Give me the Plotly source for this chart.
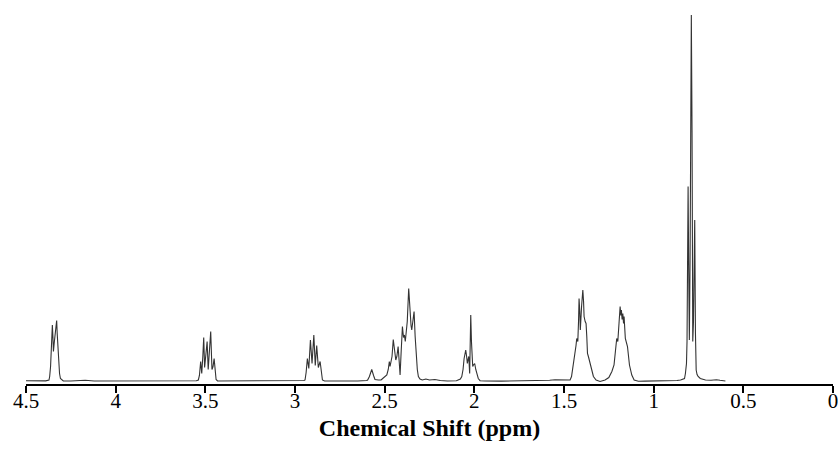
import plotly.graph_objects as go

# 1H NMR spectrum: chemical shift (ppm) and relative intensity
ppm_a = [4.50, 4.45, 4.39, 4.372, 4.368, 4.363, 4.358, 4.353, 4.350, 4.347, 4.343, 4.338, 4.333, 4.329, 4.326, 4.323, 4.318, 4.313, 4.308, 4.300, 4.292]
int_a = [0.8, 0.5, 0.6, 1.5, 5, 15, 40, 56.5, 45, 30, 38, 45, 55, 61, 48, 35, 22, 8, 3, 1.5, 0.5]

ppm_b = [4.25, 4.17, 4.12, 3.95, 3.85, 3.75, 3.60, 3.55,
         3.539, 3.533, 3.526, 3.520, 3.514, 3.509, 3.504, 3.499, 3.490, 3.484, 3.478, 3.470, 3.463, 3.457, 3.451, 3.445, 3.440, 3.432]
int_b = [0.5, 1.2, 0.5, 0.5, 1.0, 0.4, 0.5, 0.8,
         1.5, 6, 20, 8, 25, 44, 14, 22, 40, 12, 30, 50, 12, 15, 23, 8, 2, 0.5]

ppm_c = [3.40, 3.25, 3.10, 2.98, 2.95,
         2.944, 2.938, 2.931, 2.923, 2.914, 2.905, 2.895, 2.887, 2.879, 2.870, 2.860, 2.853, 2.847, 2.835]
int_c = [0.5, 0.3, 0.5, 0.4, 1.0,
         1.5, 9, 23, 13, 41.5, 18, 46.5, 16, 36, 14, 20, 6, 1.5, 0.5]

ppm_d = [2.75, 2.65, 2.60,
         2.595, 2.585, 2.572, 2.562, 2.554, 2.535, 2.520, 2.511, 2.500, 2.488, 2.480, 2.474, 2.470, 2.466, 2.459,
         2.452, 2.445, 2.438, 2.432, 2.425, 2.419, 2.414, 2.408, 2.401, 2.395, 2.390, 2.385, 2.381, 2.374, 2.366,
         2.362, 2.358, 2.353, 2.349, 2.343, 2.336, 2.330, 2.325, 2.318, 2.312, 2.303, 2.29, 2.27, 2.25, 2.22,
         2.19, 2.15, 2.10, 2.08]
int_d = [0.4, 0.5, 1.0,
         1.5, 5, 12, 6, 2, 1.5, 1.5, 3, 5, 6.5, 12, 20, 15, 18, 25,
         42, 28, 21.5, 25, 35, 20, 6.5, 30, 55, 44, 46.5, 40, 50, 60, 93,
         78, 70, 56, 51.5, 62, 70, 45, 26.5, 12, 5, 2.5, 1.5, 2.5, 1.5, 2,
         1, 0.5, 0.8, 2]

ppm_e = [2.078, 2.070, 2.063, 2.057, 2.048, 2.043, 2.039, 2.035, 2.031, 2.026, 2.020, 2.016, 2.013, 2.009,
         2.005, 1.998, 1.992, 1.986, 1.978, 1.968,
         1.94, 1.85, 1.75, 1.65, 1.58, 1.55, 1.52, 1.49]
int_e = [2.5, 5, 12, 23, 31.5, 25, 18, 22, 25, 8, 66.5, 40, 20, 15,
         16.5, 18, 12, 8, 3, 0.8,
         0.5, 0.4, 0.5, 0.6, 1.2, 1.8, 1.5, 1.0]

ppm_f = [1.466, 1.458, 1.451, 1.444, 1.438, 1.433, 1.429, 1.423, 1.419, 1.416, 1.412, 1.409, 1.402, 1.395,
         1.391, 1.388, 1.382, 1.377, 1.373, 1.369, 1.364, 1.358, 1.352, 1.345, 1.336, 1.321, 1.299, 1.271,
         1.25, 1.233, 1.221, 1.213, 1.206, 1.200, 1.197, 1.192, 1.187, 1.183, 1.180, 1.176, 1.172, 1.168, 1.165,
         1.158, 1.146, 1.135, 1.122, 1.109, 1.085]
int_f = [1.5, 5, 13, 20, 28, 36, 43, 40, 60, 83, 70, 51.5, 75, 91.5,
         80, 65, 60, 58, 45, 28, 25, 21.5, 16, 11.5, 5, 1.5, 0, 1.5,
         4, 10, 16.5, 28, 43, 40, 48, 62, 75, 66, 71.5, 62, 68, 58, 65,
         43, 35, 16.5, 6.5, 1.5, 0.3]

ppm_g = [1.05, 0.98, 0.92, 0.87, 0.85, 0.835,
         0.828, 0.823, 0.817, 0.814, 0.812, 0.808, 0.805, 0.801, 0.797, 0.794, 0.790, 0.786, 0.782, 0.778,
         0.774, 0.771, 0.767, 0.763, 0.758, 0.752, 0.74, 0.725, 0.711,
         0.68, 0.65, 0.63, 0.60]
int_g = [0.4, 0.5, 0.6, 1.0, 1.5, 2.5,
         3, 8, 18, 40, 131.5, 195, 120, 41.5, 120, 250, 366.5, 250, 40, 60,
         120, 161.5, 48, 11.5, 7, 5, 3, 2, 1.5,
         1.2, 1.8, 1.2, 0.5]

shift_ppm = ppm_a + ppm_b + ppm_c + ppm_d + ppm_e + ppm_f + ppm_g
intensity = int_a + int_b + int_c + int_d + int_e + int_f + int_g

tick_vals = [4.5, 4, 3.5, 3, 2.5, 2, 1.5, 1, 0.5, 0]
tick_text = ["4.5", "4", "3.5", "3", "2.5", "2", "1.5", "1", "0.5", "0"]

serif = "Liberation Serif, Times New Roman, serif"

fig = go.Figure()
fig.add_trace(go.Scatter(
    x=shift_ppm, y=intensity, mode="lines",
    line=dict(color="#333333", width=1.1),
    hoverinfo="x+y", showlegend=False,
))

fig.update_layout(
    width=838, height=456,
    margin=dict(l=26, r=5, t=10, b=72, autoexpand=False),
    paper_bgcolor="white", plot_bgcolor="white",
    xaxis=dict(
        range=[4.5, 0], autorange=False, automargin=False,
        tickmode="array", tickvals=tick_vals, ticktext=tick_text,
        showline=True, linecolor="black", linewidth=1.5,
        ticks="outside", ticklen=7, tickwidth=1.5, tickcolor="black",
        ticklabelstandoff=-10, ticklabeloverflow="allow",
        showgrid=False, zeroline=False,
        tickfont=dict(family=serif, size=21, color="black"),
        title=dict(text="<b>Chemical Shift (ppm)</b>", standoff=7,
                   font=dict(family=serif, size=24, color="black")),
    ),
    yaxis=dict(range=[-2.5, 371.5], autorange=False, visible=False,
               showgrid=False, zeroline=False, automargin=False),
)

fig.write_html("out.html", config={"displayModeBar": False},
               post_script="document.body.style.margin='0';document.body.style.overflow='hidden';")
